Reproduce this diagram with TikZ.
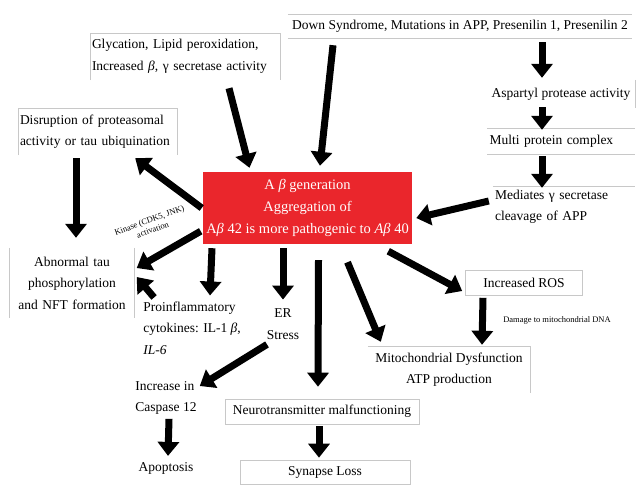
\documentclass[tikz,border=0pt]{standalone}
\usepackage{fontspec}
\setmainfont{Liberation Serif}
\usepackage{tikz}
\usetikzlibrary{calc, arrows.meta, positioning}
\definecolor{corered}{RGB}{234,38,44}
\definecolor{framegray}{RGB}{200,200,200}

\begin{document}
\begin{tikzpicture}[
        x=1pt, y=-1pt,
        txt/.style = {inner sep=2pt, font=\fontsize{13.5}{21.5}\selectfont},
        frame/.style = {txt, draw=framegray, line width=0.6pt},
        rule/.style = {draw=framegray, line width=0.6pt},
        core/.style = {rectangle, fill=corered, text=white, align=center, minimum width=207pt, minimum height=72pt, font=\fontsize{14.5}{22}\selectfont},
        note/.style = {inner sep=1pt, font=\fontsize{8.5}{10}\selectfont},
        arrow/.style = {draw=black, line width=7pt, -{Triangle[width=21pt,length=14pt]}}
    ]
        \useasboundingbox (0,0) rectangle (642,496);

        % === Central node ===
        \node (core) [core] at (307.5,208) {A \textit{β} generation\\Aggregation of\\A\textit{β} 42 is more pathogenic to \textit{Aβ} 40};

        % === Causes ===
        \node (down) [txt, minimum width=344pt, minimum height=24pt] at (460,26) {Down Syndrome, Mutations in APP, Presenilin 1, Presenilin 2};
        \node (glyc) [txt, text width=186pt, align=left, minimum height=47pt] at (185,56.5) {Glycation, Lipid peroxidation,\\Increased \textit{β}, γ secretase activity};
        \node (asp) [txt, minimum width=149pt, minimum height=28pt] at (561,94) {Aspartyl protease activity};
        \node (multi) [txt, text width=143pt, align=left, minimum height=26pt] at (561,141) {Multi protein complex};
        \node (med) [txt, text width=138pt, align=left, minimum height=42pt] at (564,207) {Mediates γ secretase\\cleavage of APP};

        % === Effects ===
        \node (disr) [txt, text width=155pt, align=left, minimum height=47pt] at (97.5,131.5) {Disruption of proteasomal\\activity or tau ubiquination};
        \node (tau) [txt, text width=121pt, align=center, minimum height=70pt] at (72,283) {Abnormal tau\\phosphorylation\\and NFT formation};
        \node (kin) [note, align=center, rotate=20] at (151,225) {Kinase (CDK5, JNK)\\activation};
        \node (infl) [txt, align=left] at (192,328) {Proinflammatory\\cytokines: IL-1 \textit{β},\\\textit{IL-6}};
        \node (er) [txt, align=center] at (283,324) {ER\\Stress};
        \node (casp) [txt, align=left] at (166,398) {Increase in\\Caspase 12};
        \node (apop) [txt] at (166,468) {Apoptosis};
        \node (neuro) [frame, minimum width=194pt, minimum height=25pt] at (322,411.5) {Neurotransmitter malfunctioning};
        \node (syn) [frame, minimum width=170pt, minimum height=24pt] at (325,472) {Synapse Loss};
        \node (ros) [frame, minimum width=117pt, minimum height=25pt] at (524,283) {Increased ROS};
        \node (dmg) [note] at (557,320) {Damage to mitochondrial DNA};
        \node (mito) [txt, minimum width=162pt, minimum height=47pt, align=center] at (449,369.5) {Mitochondrial Dysfunction\\ATP production};

        % === Open frames ===
        \draw [rule] (down.north west) -- (down.north east);
        \draw [rule] (down.south west) -- (down.south east);
        \draw [rule] (glyc.south west) -- (glyc.north west) -- (glyc.north east) -- (glyc.south east);
        \draw [rule] (disr.south west) -- (disr.north west) -- (disr.north east) -- (disr.south east);
        \draw [rule] (asp.north east) -- (asp.south east);
        \draw [rule] (multi.north west) -- (multi.north east);
        \draw [rule] (multi.south west) -- (multi.south east);
        \draw [rule] (med.north west) -- (med.north east);
        \draw [rule] (tau.north west) -- (tau.south west);
        \draw [rule] (tau.north east) -- (tau.south east);
        \draw [rule] (mito.north west) -- (mito.north east) -- (mito.south east);

        % === Arrows ===
        % into the core
        \draw [arrow] ($(down.south)+(-127,7)$) -- ($(core.north)+(12.5,-6)$);
        \draw [arrow] ($(glyc.south)+(44,8)$) -- ($(core.north)+(-58,-4)$);
        \draw [arrow] ($(med.west)+(-4,-6)$) -- ($(core.east)+(4,10)$);

        % right chain
        \draw [arrow] ($(down.south)+(82,4)$) -- ($(asp.north)+(-19,-2)$);
        \draw [arrow] ($(asp.south)+(-19,-1)$) -- ($(multi.north)+(-19,2)$);
        \draw [arrow] ($(multi.south)+(-19,2)$) -- ($(med.north)+(-22,2)$);

        % out of the core
        \draw [arrow] ($(core.west)+(-1,0)$) -- ($(disr.south east)+(-42,3)$);
        \draw [arrow] ($(disr.south)+(-21.5,3)$) -- ($(tau.north)+(4,-10)$);
        \draw [arrow] ($(core.south west)+(-2,-13)$) -- ($(tau.east)+(2,-15)$);
        \draw [arrow] ($(infl.north west)+(13,-2)$) -- ($(tau.east)+(2,-6)$);
        \draw [arrow] ($(core.south)+(-95.5,4)$) -- ($(infl.north)+(18,-4)$);
        \draw [arrow] ($(core.south)+(-24.5,4)$) -- ($(er.north)+(0,-7)$);
        \draw [arrow] ($(core.south)+(11,16)$) -- ($(neuro.north)+(-4,-12)$);
        \draw [arrow] ($(core.south)+(40,18)$) -- ($(mito.north west)+(13,-4)$);
        \draw [arrow] ($(core.south east)+(-24,7)$) -- ($(ros.west)+(-3,8)$);

        % lower chains
        \draw [arrow] ($(ros.south)+(-41,2)$) -- ($(mito.north)+(33,-1)$);
        \draw [arrow] ($(er.south)+(-16,3)$) -- ($(casp.east)+(1,-12)$);
        \draw [arrow] ($(casp.south)+(3,2)$) -- ($(apop.north)+(2,-4)$);
        \draw [arrow] ($(neuro.south)+(-3,2)$) -- ($(syn.north)+(-6,-2)$);

    \end{tikzpicture}
\end{document}
